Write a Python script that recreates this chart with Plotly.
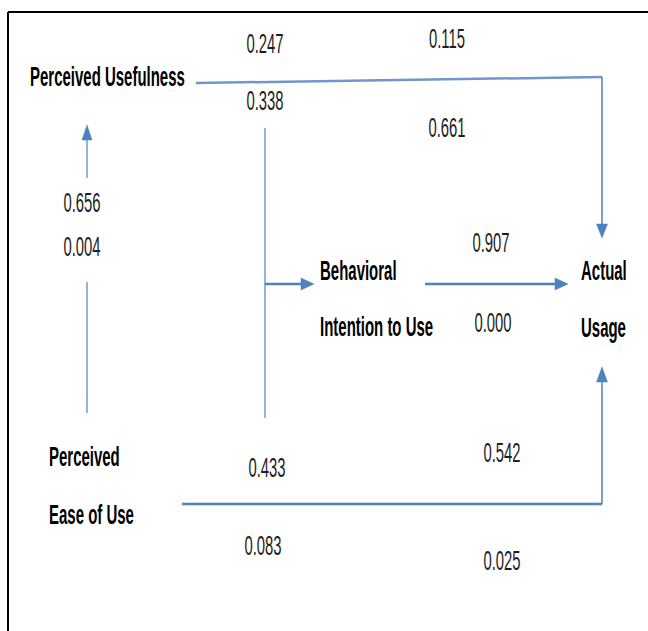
import plotly.graph_objects as go

# Constructs (one entry per printed line) and path coefficients
construct_lines = ["Perceived Usefulness", "Behavioral", "Intention to Use", "Actual", "Usage",
                   "Perceived", "Ease of Use"]
coef_labels = ["0.247", "0.338", "0.115", "0.661", "0.656", "0.004", "0.907", "0.000",
               "0.433", "0.083", "0.542", "0.025"]

W, H = 648, 631
BLUE = "#4f81bd"
FONT = "Liberation Sans, Arial, sans-serif"

fig = go.Figure()
shapes = []

def line(x0, y0, x1, y1, w=1.5, color=BLUE):
    shapes.append(dict(type="line", x0=x0, y0=y0, x1=x1, y1=y1, xref="x", yref="y",
                       line=dict(color=color, width=w)))

def head(tx, ty, direction, L=14, hw=5.5):
    if direction == "right":
        p = f"M{tx},{ty} L{tx-L},{ty-hw} L{tx-L},{ty+hw} Z"
    elif direction == "down":
        p = f"M{tx},{ty} L{tx-hw},{ty-L} L{tx+hw},{ty-L} Z"
    else:  # up
        p = f"M{tx},{ty} L{tx-hw},{ty+L} L{tx+hw},{ty+L} Z"
    shapes.append(dict(type="path", path=p, xref="x", yref="y",
                       fillcolor=BLUE, line=dict(color=BLUE, width=0.5)))

# frame
line(8, 12, W + 5, 12, w=2, color="black")
line(8, 12, 8, H + 5, w=2, color="black")

# PU -> AU
line(196, 83, 602, 77, w=2.5, color="#6f97c8")
line(602, 77, 602, 226, w=1.5)
head(602, 238, "down")

# PEOU -> PU (up arrow with gap for labels)
line(87, 413, 87, 282, w=1.2)
line(87, 178, 87, 138, w=1.2)
head(87, 125, "up", L=15, hw=5)

# vertical connector and branch into BI
line(265, 128, 265, 418, w=1.2)
line(265, 284, 302, 284, w=2.5)
head(314, 284, "right", L=13, hw=6)

# BI -> AU
line(425, 284, 556, 284, w=2.5)
head(568, 284, "right", L=13, hw=6)

# PEOU -> AU
line(182, 504, 602, 504, w=2.5)
line(602, 504, 602, 380, w=1.5)
head(602, 367, "up", L=15, hw=5.5)

fig.update_layout(shapes=shapes)

# construct labels (left-aligned)
name_pos = [(28, 76), (318, 270), (318, 326), (579, 270), (579, 327), (47, 456), (47, 514)]
for txt, (x, y) in zip(construct_lines, name_pos):
    fig.add_annotation(x=x, y=y, text=txt, showarrow=False, xanchor="left", yanchor="middle",
                       font=dict(family=FONT, size=28, color="#000000", weight="bold"))

coef_pos = [(265, 43), (265, 100), (447, 38), (447, 127), (82, 202), (82, 246),
            (491, 242), (493, 322), (267, 467), (263, 545), (502, 452), (502, 560)]
for txt, (x, y) in zip(coef_labels, coef_pos):
    fig.add_annotation(x=x, y=y, text=txt, showarrow=False, xanchor="center", yanchor="middle",
                       font=dict(family=FONT, size=28, color="#1e1e1e"))

fig.update_xaxes(range=[0, W], visible=False, fixedrange=True)
fig.update_yaxes(range=[H, 0], visible=False, fixedrange=True)
fig.update_layout(width=W, height=H, margin=dict(l=0, r=0, t=0, b=0),
                  paper_bgcolor="white", plot_bgcolor="white", showlegend=False)

# The source uses a tall, condensed face: squeeze the text horizontally.
post = """
document.body.style.margin = '0';
var gd = document.getElementById('{plot_id}');
function squeeze() {
  gd.querySelectorAll('g.annotation').forEach(function (g) {
    var t = g.querySelector('text.annotation-text');
    if (!t) return;
    t.removeAttribute('transform');
    var b = t.getBBox();
    var isNum = /^0\\./.test(t.textContent.trim());
    var s = isNum ? 0.53 : 0.535;
    var ox = isNum ? b.x + b.width / 2 : b.x;
    t.setAttribute('transform', 'translate(' + ox + ',0) scale(' + s + ',1) translate(' + (-ox) + ',0)');
  });
}
squeeze();
gd.on('plotly_afterplot', squeeze);
"""
fig.write_html("out.html", post_script=post, config={"displayModeBar": False, "staticPlot": True})
